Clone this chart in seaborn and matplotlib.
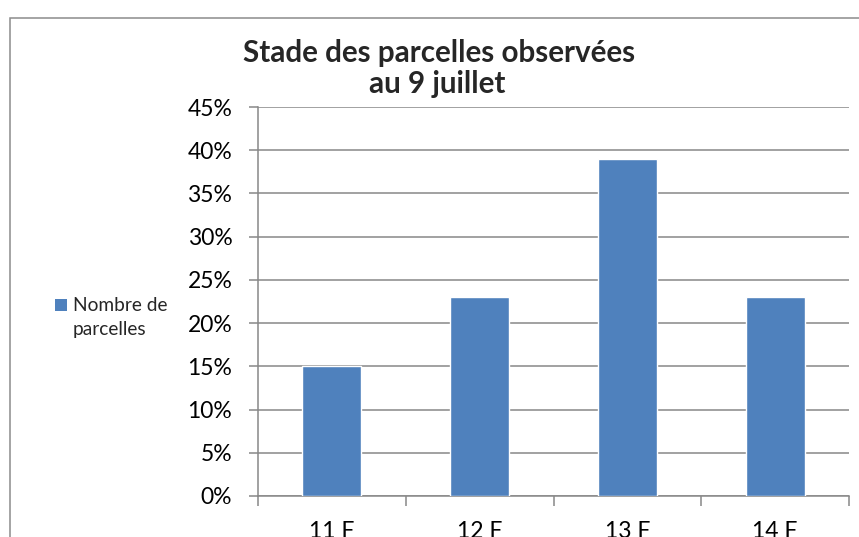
import matplotlib
matplotlib.use("Agg")
import matplotlib.pyplot as plt
import seaborn as sns
from matplotlib.patches import Rectangle
from matplotlib.ticker import PercentFormatter, FixedLocator

categories = ["11 F", "12 F", "13 F", "14 F"]
values = [0.15, 0.23, 0.39, 0.23]
yticks = [0, 0.05, 0.10, 0.15, 0.20, 0.25, 0.30, 0.35, 0.40, 0.45]
title_lines = ["Stade des parcelles observées", "au 9 juillet"]
legend_label = "Nombre de\nparcelles"

sns.set_style("white")
plt.rcParams["font.family"] = ["Lato", "DejaVu Sans"]

W, H = 859, 537
fig = plt.figure(figsize=(W / 100, H / 100), dpi=100)
ax = fig.add_axes([258 / W, 1 - 496 / H, (849 - 258) / W, (496 - 107) / H])

bar_color = "#4F81BD"
grid_color = "#888888"

sns.barplot(x=categories, y=values, width=0.4, color=bar_color,
            saturation=1, ax=ax, zorder=3)

ax.set_xlim(-0.5, len(categories) - 0.5)
ax.set_ylim(0, 0.45)
ax.set_yticks(yticks)
ax.yaxis.set_major_formatter(PercentFormatter(1.0, decimals=0))
ax.grid(axis="y", color=grid_color, linewidth=1.1, zorder=0)
ax.set_axisbelow(True)
ax.set_xlabel("")
ax.set_ylabel("")

for s in ["top", "right"]:
    ax.spines[s].set_visible(False)
for s in ["left", "bottom"]:
    ax.spines[s].set_color(grid_color)
    ax.spines[s].set_linewidth(1.1)

ax.tick_params(axis="y", which="major", direction="out", length=6.5, width=1.1,
               color=grid_color, pad=12, labelsize=16.5, labelcolor="black", left=True)
ax.xaxis.set_minor_locator(FixedLocator([i - 0.5 for i in range(len(categories) + 1)]))
ax.tick_params(axis="x", which="minor", direction="out", length=7, width=1.1,
               color=grid_color, bottom=True)
ax.tick_params(axis="x", which="major", length=0, pad=18, labelsize=16.5,
               labelcolor="black")

# Title
fig.text(439 / W, 1 - 62 / H, title_lines[0], ha="center", va="baseline",
         fontsize=21.3, fontweight="bold")
fig.text(437 / W, 1 - 93 / H, title_lines[1], ha="center", va="baseline",
         fontsize=21.3, fontweight="bold")

# Legend
fig.patches.append(Rectangle((55 / W, 1 - 311 / H), 12 / W, 12 / H,
                             transform=fig.transFigure, facecolor=bar_color,
                             edgecolor="none"))
l1, l2 = legend_label.split("\n")
fig.text(73 / W, 1 - 311 / H, l1, ha="left", va="baseline", fontsize=13.8)
fig.text(73 / W, 1 - 335 / H, l2, ha="left", va="baseline", fontsize=13.8)

# Chart area border
fig.patches.append(Rectangle((10 / W, -0.1), 1.2, 1.1 - 18 / H,
                             transform=fig.transFigure, facecolor="none",
                             edgecolor="#8c8c8c", linewidth=1.1))

fig.savefig("out.png", dpi=100)
